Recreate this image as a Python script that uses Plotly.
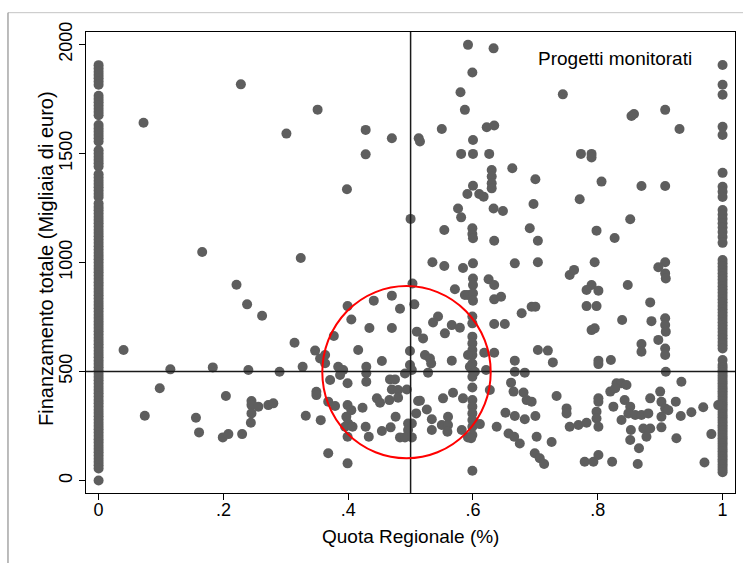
import plotly.graph_objects as go

# Quota regionale = 0 (column at x=0)
fin_quota_zero = [1905, 1890, 1875, 1860, 1845, 1830, 1815,
                  1765, 1750, 1735, 1720, 1705, 1690, 1675,
                  1630, 1615, 1600, 1585, 1570, 1555,
                  1515, 1500, 1485, 1470, 1455, 1440,
                  1405, 1390, 1375, 1360, 1345, 1330, 1315, 1300,
                  1270, 1255, 1240, 1225, 1210, 1195, 1180, 1165, 1150, 1135,
                  1120, 1105, 1090, 1075, 1060, 1045, 1030, 1015, 1000, 985,
                  970, 955, 940, 925, 910, 895, 880, 865, 850, 835, 820, 805,
                  790, 775, 760, 745, 730, 715, 700, 685, 670, 655, 640, 625,
                  610, 595, 580, 565, 550, 535, 520, 505, 490, 475, 460, 445,
                  430, 415, 400, 385, 370, 355, 340, 325, 310, 295, 280, 265,
                  250, 235, 220, 205, 190, 175, 160, 145, 130, 115, 100, 85,
                  70, 55, 0]

# Quota regionale = 1 (column at x=1)
fin_quota_uno = [1906, 1815, 1769, 1622, 1585, 1411, 1347, 1325, 1300, 1241,
                 1220, 1200, 1180, 1160, 1140, 1117, 1090,
                 1011, 996, 981, 966, 951, 936, 921, 906, 891, 876, 861, 846,
                 831, 816, 801, 786, 771, 756, 741, 726, 711, 696, 681, 666,
                 651, 636, 621, 606, 553,
                 530, 518, 506, 494, 482, 470, 458, 446, 434, 422, 410, 398,
                 386, 374, 362, 350, 338, 326, 314, 302, 290, 278, 266, 254,
                 242, 230, 218, 206, 194, 182, 170, 158, 146, 134, 122, 110,
                 98, 86, 74, 62, 50, 38]

# Projects with intermediate regional share (quota, finanziamento)
punti_sinistra = [
    (0.228, 1817), (0.072, 1641), (0.351, 1701), (0.301, 1591), (0.428, 1608),
    (0.428, 1496), (0.470, 1570), (0.398, 1336), (0.166, 1048), (0.324, 1021),
    (0.221, 898), (0.238, 808), (0.262, 756), (0.040, 599), (0.314, 632),
    (0.399, 800), (0.441, 825), (0.470, 848), (0.483, 788), (0.405, 739),
    (0.377, 663), (0.434, 700), (0.470, 700), (0.347, 596), (0.355, 560),
    (0.363, 576), (0.363, 538), (0.416, 599), (0.454, 548), (0.491, 491),
    (0.115, 510), (0.183, 519), (0.240, 507), (0.290, 499), (0.327, 522),
    (0.384, 522), (0.392, 507), (0.387, 484), (0.429, 522), (0.429, 492),
    (0.429, 453), (0.371, 461), (0.399, 446), (0.467, 464), (0.475, 464),
    (0.470, 418), (0.480, 415), (0.494, 418), (0.480, 380), (0.349, 407),
    (0.349, 392), (0.098, 423), (0.204, 388), (0.245, 365), (0.245, 346),
    (0.256, 339), (0.272, 346), (0.280, 354), (0.245, 308), (0.244, 265),
    (0.074, 297), (0.156, 288), (0.161, 221), (0.199, 198), (0.208, 213),
    (0.230, 213), (0.332, 297), (0.356, 277), (0.368, 362), (0.379, 342),
    (0.399, 346), (0.405, 323), (0.397, 293), (0.400, 262), (0.395, 247),
    (0.407, 247), (0.399, 201), (0.423, 334), (0.446, 377), (0.451, 357),
    (0.466, 369), (0.476, 293), (0.428, 247), (0.433, 201), (0.454, 227),
    (0.468, 244), (0.483, 198), (0.491, 198), (0.496, 262), (0.496, 232),
    (0.368, 125), (0.399, 79),
]

punti_centro = [
    (0.513, 1570), (0.515, 1555), (0.500, 1200), (0.503, 904), (0.506, 808),
    (0.510, 683), (0.499, 594), (0.499, 530), (0.502, 507), (0.502, 198),
    (0.502, 262), (0.509, 308), (0.512, 365), (0.520, 652), (0.523, 576),
    (0.531, 560), (0.533, 537), (0.528, 495), (0.515, 366), (0.526, 326),
    (0.534, 281), (0.534, 232), (0.535, 1001), (0.544, 752), (0.536, 725),
    (0.550, 1612), (0.554, 1149), (0.554, 984), (0.566, 713), (0.579, 701),
    (0.555, 675), (0.566, 550), (0.571, 877), (0.568, 403), (0.552, 377),
    (0.584, 377), (0.550, 255), (0.560, 293), (0.560, 255), (0.559, 224),
    (0.582, 232), (0.584, 975), (0.587, 851), (0.592, 851),
    (0.592, 1998), (0.633, 1982), (0.599, 1871), (0.580, 1781), (0.587, 1700),
    (0.622, 1620), (0.634, 1628), (0.600, 1562), (0.581, 1498), (0.600, 1498),
    (0.626, 1498), (0.630, 1424), (0.630, 1394), (0.630, 1363), (0.630, 1340),
    (0.600, 1352), (0.591, 1314), (0.610, 1314), (0.617, 1302), (0.576, 1248),
    (0.581, 1207), (0.633, 1248), (0.648, 1236), (0.599, 1157), (0.599, 1131),
    (0.600, 1111), (0.634, 1100), (0.600, 996), (0.600, 927), (0.600, 897),
    (0.600, 859), (0.600, 825), (0.625, 923), (0.634, 897), (0.634, 831),
    (0.645, 843), (0.599, 752), (0.599, 721), (0.634, 718), (0.599, 660),
    (0.599, 629), (0.599, 599), (0.599, 576), (0.592, 576), (0.618, 586),
    (0.634, 586), (0.599, 537), (0.599, 507), (0.599, 476), (0.595, 522),
    (0.603, 499), (0.621, 507), (0.627, 415), (0.599, 427), (0.599, 369),
    (0.599, 339), (0.599, 308), (0.599, 278), (0.599, 247), (0.599, 209),
    (0.592, 198), (0.611, 259), (0.597, 194), (0.599, 45), (0.638, 247),
]

punti_destra = [
    (0.663, 1432), (0.700, 1382), (0.697, 1268), (0.691, 1157), (0.704, 1100),
    (0.667, 996), (0.704, 1001), (0.651, 718), (0.678, 767), (0.694, 797),
    (0.700, 797), (0.704, 599), (0.720, 596), (0.728, 542), (0.667, 550),
    (0.667, 499), (0.683, 495), (0.661, 449), (0.665, 408), (0.652, 311),
    (0.667, 296), (0.657, 216), (0.666, 201), (0.675, 170), (0.681, 404),
    (0.686, 369), (0.694, 362), (0.683, 281), (0.700, 296), (0.702, 201),
    (0.699, 125), (0.707, 102), (0.714, 76), (0.726, 177), (0.734, 388),
    (0.744, 1771), (0.773, 1498), (0.790, 1498), (0.790, 1482), (0.806, 1371),
    (0.771, 1290), (0.798, 1146), (0.827, 1112), (0.795, 1001), (0.755, 943),
    (0.762, 966), (0.790, 897), (0.782, 874), (0.801, 871), (0.782, 800),
    (0.798, 800), (0.790, 690), (0.795, 698), (0.801, 550), (0.801, 534),
    (0.821, 553), (0.750, 331), (0.750, 308), (0.755, 247), (0.769, 255),
    (0.782, 265), (0.801, 377), (0.801, 362), (0.798, 316), (0.798, 285),
    (0.801, 247), (0.779, 86), (0.793, 86), (0.801, 117), (0.823, 86),
    (0.820, 408), (0.830, 446), (0.838, 446), (0.846, 438), (0.828, 423),
    (0.825, 339), (0.843, 369), (0.852, 339), (0.849, 308), (0.860, 301),
    (0.838, 278), (0.853, 232), (0.852, 186), (0.866, 148), (0.864, 76),
    (0.854, 1672), (0.858, 1681), (0.908, 1700), (0.931, 1612), (0.870, 1351),
    (0.908, 1351), (0.852, 1198), (0.848, 897), (0.884, 817), (0.839, 736),
    (0.886, 731), (0.908, 1001), (0.897, 978), (0.908, 950), (0.909, 927),
    (0.908, 744), (0.908, 713), (0.909, 683), (0.897, 645), (0.870, 626),
    (0.870, 591), (0.908, 606), (0.908, 576), (0.909, 499), (0.870, 301),
    (0.881, 308), (0.884, 377), (0.900, 408), (0.902, 361), (0.908, 331),
    (0.902, 293), (0.913, 323), (0.873, 239), (0.884, 239), (0.878, 201),
    (0.902, 244), (0.925, 362), (0.926, 194), (0.934, 453), (0.933, 296),
    (0.950, 313), (0.969, 336), (0.971, 83), (0.982, 213), (0.993, 346),
]

x_ticks = [0, 0.2, 0.4, 0.6, 0.8, 1]
x_tick_labels = ["0", ".2", ".4", ".6", ".8", "1"]
y_ticks = [0, 500, 1000, 1500, 2000]
y_tick_labels = ["0", "500", "1000", "1500", "2000"]
soglia_quota = 0.5
soglia_fin = 500

quota = [0.0] * len(fin_quota_zero) + [1.0] * len(fin_quota_uno)
fin = list(fin_quota_zero) + list(fin_quota_uno)
for gruppo in (punti_sinistra, punti_centro, punti_destra):
    for q, f in gruppo:
        quota.append(q)
        fin.append(f)

FONT = "Liberation Sans, Arial, Helvetica, sans-serif"

fig = go.Figure()
fig.add_trace(go.Scatter(
    x=quota, y=fin, mode="markers",
    marker=dict(size=10, color="#5e5e5e", line=dict(width=0)),
    showlegend=False, hoverinfo="x+y",
))

line_style = dict(color="#1a1a1a", width=1.5)
fig.add_shape(type="line", xref="x", yref="paper", x0=soglia_quota, x1=soglia_quota,
              y0=0, y1=1, line=line_style, layer="above")
fig.add_shape(type="line", xref="paper", yref="y", x0=0, x1=1,
              y0=soglia_fin, y1=soglia_fin, line=line_style, layer="above")
# red circle highlighting the centre cluster
fig.add_shape(type="circle", xref="x", yref="y", x0=0.3585, x1=0.6284,
              y0=102, y1=892, line=dict(color="#ff0000", width=2), layer="above")

# outer light frame (partially visible, as in the original export)
fig.add_shape(type="line", xref="paper", yref="paper", x0=-0.1202, x1=1.02,
              y0=1.0419, y1=1.0419, line=dict(color="#c4c4c4", width=1))
fig.add_shape(type="line", xref="paper", yref="paper", x0=-0.1202, x1=-0.1202,
              y0=1.0419, y1=-0.16, line=dict(color="#7a7a7a", width=1))

fig.add_annotation(text="Progetti monitorati", xref="paper", yref="paper",
                   x=0.815, y=0.9436, xanchor="center", yanchor="middle",
                   showarrow=False, font=dict(family=FONT, size=19, color="#000000"))

# axis titles
fig.add_annotation(text="Quota Regionale (%)", xref="paper", yref="paper",
                   x=(410 - 86) / 649, y=-0.0954, xanchor="center", yanchor="middle",
                   showarrow=False, font=dict(family=FONT, size=19, color="#000000"))
fig.add_annotation(text="Finanzamento totale (Migliaia di euro)", xref="paper",
                   yref="paper", x=-0.0616, y=(493 - 259) / 461, textangle=-90,
                   xanchor="center", yanchor="middle", showarrow=False,
                   font=dict(family=FONT, size=20, color="#000000"))

fig.update_layout(
    width=743, height=563,
    margin=dict(l=86, r=8, t=32, b=70),
    paper_bgcolor="white", plot_bgcolor="white",
    font=dict(family=FONT, size=18, color="#000000"),
    xaxis=dict(
        range=[-0.0202, 1.0199], tickvals=x_ticks, ticktext=x_tick_labels,
        showgrid=False, zeroline=False, showline=True, linecolor="#000000",
        linewidth=1.3, mirror=True, ticks="outside", ticklen=6, tickwidth=1,
        tickcolor="#000000", tickfont=dict(family=FONT, size=18),
        ticklabelstandoff=-6,
    ),
    yaxis=dict(
        range=[-57, 2057], tickvals=y_ticks, ticktext=y_tick_labels,
        showgrid=False, zeroline=False, showline=True, linecolor="#000000",
        linewidth=1.3, mirror=True, ticks="outside", ticklen=6, tickwidth=1,
        tickcolor="#000000", tickangle=-90, tickfont=dict(family=FONT, size=18),
    ),
)

fig.write_html("out.html")
